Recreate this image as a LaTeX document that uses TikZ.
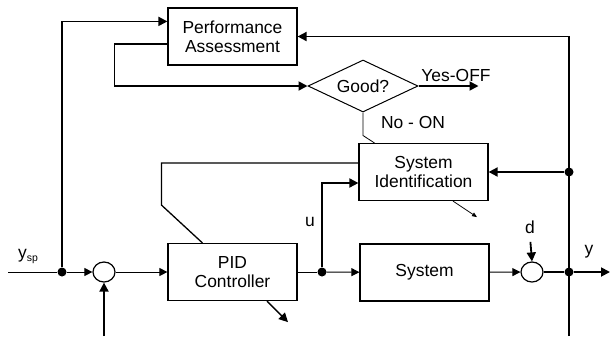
\documentclass[tikz,border=0pt]{standalone}
\usepackage{fontspec}
\setmainfont{Liberation Sans}
\usetikzlibrary{arrows.meta,shapes.geometric}
\begin{document}
\begin{tikzpicture}[x=1bp,y=-1bp,
  every node/.style={font=\fontsize{17.5}{19.5}\selectfont},
  block/.style={draw,line width=1.2bp,minimum width=129bp,minimum height=57bp,inner sep=0pt,align=center,fill=white},
  decide/.style={diamond,draw,line width=1bp,minimum width=110bp,minimum height=52bp,aspect=2.1,inner sep=1bp},
  sumc/.style={ellipse,draw,line width=1.2bp,minimum width=22bp,minimum height=20bp,inner sep=0pt},
  junc/.style={circle,fill,inner sep=0pt,minimum size=9bp},
  sig/.style={line width=1bp},
  siga/.style={line width=1bp,-{Triangle[length=8bp,width=8bp]}},
  fb/.style={line width=1.8bp},
  fba/.style={line width=1.8bp,-{Triangle[length=9bp,width=9bp]}}]
\useasboundingbox (0,0) rectangle (610,336);

% blocks
\node[block] (PA)  at (232.5,36.5) {Performance\\Assessment};
\node[block] (SI)  at (423.5,172)  {System\\Identification};
\node[block] (PID) at (232.5,272)  {PID\\Controller};
\node[block] (SYS) at (424.5,272.5) {System};
\node[decide] (D) at (363,86) {Good?};

% summing points and junctions
\node[sumc] (S1) at (104,272) {};
\node[sumc] (S2) at (532,272) {};
\node[junc] (J1) at (62,272) {};
\node[junc] (J2) at (322,272) {};
\node[junc] (J3) at (569,272) {};
\node[junc] (J4) at (569,172) {};

% free ends
\coordinate (IN) at (8,272);
\coordinate (OUT) at (610,272);
\coordinate (RB) at (569,336);
\coordinate (LB) at (104,336);

% labels
\node (YSP) at (28,256) {y{\fontsize{10.5}{10.5}\selectfont\raisebox{-3bp}{sp}}};
\node (U) at (310,222) {u};
\node (DL) at (530,227) {d};
\node (Y) at (589,252) {y};
\node (YES) at (456,75) {Yes-OFF};
\node (NO) at (413,122) {No - ON};

% main loop
\draw[sig] (IN) -- (J1);
\draw[siga] (J1) -- (S1);
\draw[siga] (S1) -- (PID);
\draw[sig] (PID) -- (J2);
\draw[siga] (J2) -- (SYS);
\draw[siga] (SYS) -- (S2);
\draw[fba] (S2) -- (J3) -- (OUT);
\draw[fba, shorten <=5bp] (DL.south) -- (S2.north);
\draw[fba] (LB) -- (S1.south);

% supervisory paths
\draw[fba] (RB) |- (PA.east);
\draw[fba] (J4) -- (SI.east);
\draw[fba] (J1) |- ([yshift=-14bp]PA.north west);
\draw[fba] ([yshift=-7.5bp]PA.west) -- ++(-53,0) |- (D.west);
\draw[fba] (D.east) -- ++(60,0);
\draw[line width=0.8bp] (D.south) -- ++(0,23) -- ([xshift=16bp]SI.north west);
\draw[line width=1.3bp] ([yshift=9bp]SI.west) -- ++(-197,0) -- ++(0,42) -- ([xshift=35bp]PID.north west);
\draw[fba] (J2) |- ([yshift=-11bp]SI.west);
\draw[line width=0.8bp,-{Triangle[length=5bp,width=4bp]}] ([xshift=29.5bp]SI.south) -- ++(24,16);
\draw[line width=1.3bp,-{Triangle[length=9bp,width=9bp]}] ([xshift=34.5bp]PID.south) -- ++(21,21);
\end{tikzpicture}
\end{document}
